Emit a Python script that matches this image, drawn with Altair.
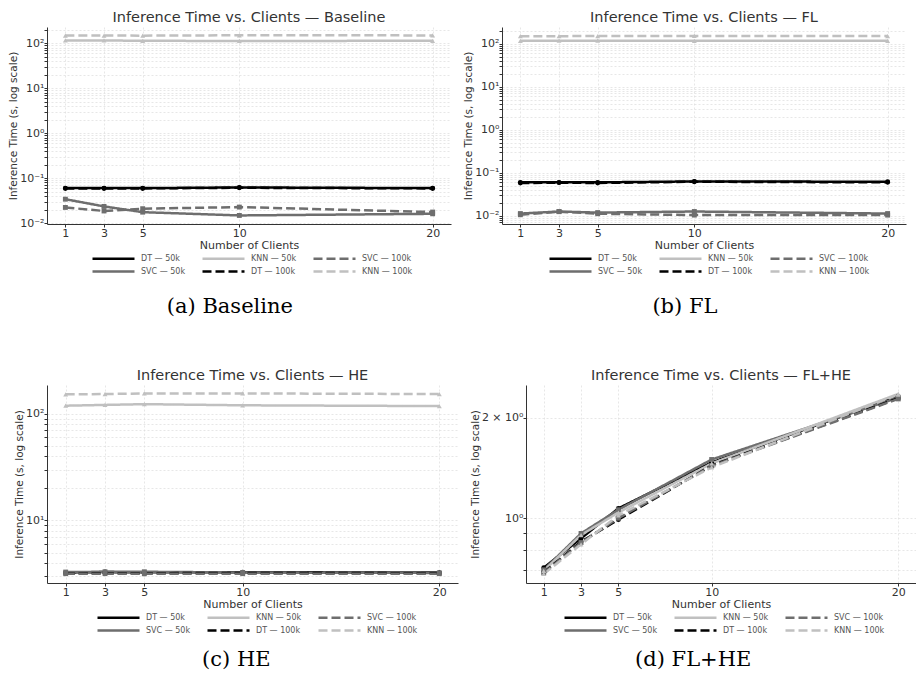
import altair as alt
import pandas as pd

clients = [1, 3, 5, 10, 20]
series_names = ["DT — 50k", "SVC — 50k", "KNN — 50k", "DT — 100k", "SVC — 100k", "KNN — 100k"]
series_models = ["DT", "SVC", "KNN", "DT", "SVC", "KNN"]
# legend order (row-wise fill of 3 columns, matching matplotlib column-wise fill)
legend_order = ["DT — 50k", "KNN — 50k", "SVC — 100k", "SVC — 50k", "DT — 100k", "KNN — 100k"]
legend_colors = ["#000000", "#c0c0c0", "#6e6e6e", "#6e6e6e", "#000000", "#c0c0c0"]
legend_dashes = [[1, 0], [1, 0], [9, 4], [1, 0], [9, 4], [9, 4]]
model_shapes = {"DT": "circle", "SVC": "square", "KNN": "triangle-up"}

# Baseline
base_dt50 = [0.060, 0.060, 0.060, 0.062, 0.060]
base_svc50 = [0.034, 0.0235, 0.0175, 0.0148, 0.0161]
base_knn50 = [115, 115, 113, 112, 113]
base_dt100 = [0.059, 0.059, 0.059, 0.061, 0.059]
base_svc100 = [0.0223, 0.0186, 0.0209, 0.0227, 0.0176]
base_knn100 = [148, 148, 147, 150, 149]

# FL
fl_dt50 = [0.060, 0.060, 0.060, 0.063, 0.062]
fl_svc50 = [0.0113, 0.0126, 0.0119, 0.0126, 0.0113]
fl_knn50 = [117, 118, 118, 117, 117]
fl_dt100 = [0.058, 0.059, 0.058, 0.062, 0.060]
fl_svc100 = [0.0106, 0.0125, 0.0112, 0.0104, 0.0104]
fl_knn100 = [150, 150, 151, 152, 151]

# HE
he_dt50 = [3.25, 3.28, 3.26, 3.27, 3.24]
he_svc50 = [3.28, 3.30, 3.30, 3.25, 3.22]
he_knn50 = [119, 121, 123, 120, 118]
he_dt100 = [3.18, 3.20, 3.20, 3.22, 3.20]
he_svc100 = [3.17, 3.17, 3.16, 3.17, 3.17]
he_knn100 = [152, 153, 155, 155, 153]

# FL+HE
flhe_dt50 = [0.71, 0.87, 1.07, 1.47, 2.32]
flhe_svc50 = [0.70, 0.90, 1.06, 1.50, 2.30]
flhe_knn50 = [0.695, 0.89, 1.04, 1.46, 2.36]
flhe_dt100 = [0.688, 0.85, 0.99, 1.44, 2.29]
flhe_svc100 = [0.685, 0.845, 1.00, 1.435, 2.28]
flhe_knn100 = [0.68, 0.835, 1.02, 1.42, 2.35]

FONT = "DejaVu Sans"
TXT = "#333333"


def minor_values(lo, hi):
    vals = []
    for e in range(-4, 4):
        for m in range(1, 10):
            v = round(m * 10.0 ** e, 10)
            if lo <= v <= hi:
                vals.append(v)
    return vals


def label_expr(labels):
    expr = "''"
    for v, s in labels:
        expr = f"abs(datum.value/{v} - 1) < 1e-6 ? '{s}' : ({expr})"
    return expr


def panel(title, caption, series, ydomain, ylabels, width, height, legend_x, cap_offset):
    rows = []
    for name, model, vals in zip(series_names, series_models, series):
        for c, v in zip(clients, vals):
            rows.append({"clients": c, "time": v, "series": name, "model": model})
    df = pd.DataFrame(rows)

    x = alt.X(
        "clients:Q",
        scale=alt.Scale(domain=[0.05, 20.95], nice=False, zero=False),
        axis=alt.Axis(values=clients, title="Number of Clients", format="d", titleFontSize=11),
    )
    y = alt.Y(
        "time:Q",
        scale=alt.Scale(type="log", domain=ydomain, nice=False),
        axis=alt.Axis(
            values=minor_values(ydomain[0], ydomain[1]),
            labelExpr=label_expr(ylabels),
            title="Inference Time (s, log scale)",
        ),
    )
    leg = alt.Legend(title=None, orient="none", legendX=legend_x, legendY=height + 28)
    cscale = alt.Scale(domain=legend_order, range=legend_colors)
    color = alt.Color("series:N", scale=cscale, legend=leg)
    dash = alt.StrokeDash(
        "series:N",
        scale=alt.Scale(domain=legend_order, range=legend_dashes),
        legend=leg,
    )
    base = alt.Chart(df).encode(x=x, y=y)
    lines = base.mark_line(strokeWidth=2.5).encode(color=color, strokeDash=dash)
    layers = [lines]
    for model, shp in model_shapes.items():
        layers.append(
            base.transform_filter(alt.datum.model == model)
            .mark_point(filled=True, size=24, opacity=1, shape=shp)
            .encode(color=alt.Color("series:N", scale=cscale, legend=None))
        )
    layer = alt.layer(*layers).properties(
        width=width,
        height=height,
        title=alt.Title(title, fontSize=14.5, font=FONT, fontWeight="normal", color=TXT, offset=2),
    )
    return alt.vconcat(
        layer,
        title=alt.Title(
            caption,
            orient="bottom",
            anchor="middle",
            font="DejaVu Serif",
            fontSize=21,
            fontWeight="normal",
            color="black",
            offset=cap_offset,
        ),
    ).resolve_scale(color="independent", strokeDash="independent")


dec = [(0.01, "10⁻²"), (0.1, "10⁻¹"), (1, "10⁰"), (10, "10¹"), (100, "10²")]

pa = panel(
    "Inference Time vs. Clients — Baseline", "(a) Baseline",
    [base_dt50, base_svc50, base_knn50, base_dt100, base_svc100, base_knn100],
    [0.00955, 229], dec, 404, 197, 60, 19,
)
pb = panel(
    "Inference Time vs. Clients — FL", "(b) FL",
    [fl_dt50, fl_svc50, fl_knn50, fl_dt100, fl_svc100, fl_knn100],
    [0.00646, 245], dec, 404, 197, 62, 19,
)
pc = panel(
    "Inference Time vs. Clients — HE", "(c) HE",
    [he_dt50, he_svc50, he_knn50, he_dt100, he_svc100, he_knn100],
    [2.59, 186], [(10, "10¹"), (100, "10²")], 411, 198, 65, 13,
)
pd_ = panel(
    "Inference Time vs. Clients — FL+HE", "(d) FL+HE",
    [flhe_dt50, flhe_svc50, flhe_knn50, flhe_dt100, flhe_svc100, flhe_knn100],
    [0.639, 2.51], [(1, "10⁰"), (2, "2 × 10⁰")], 390, 198, 53, 13,
)

ind = dict(color="independent", strokeDash="independent")
row1 = alt.hconcat(pa, pb, spacing=12).resolve_scale(**ind)
row2 = alt.hconcat(pc, pd_, spacing=12).resolve_scale(**ind)

chart = (
    alt.vconcat(row1, row2, spacing=50)
    .resolve_scale(**ind)
    .properties(padding={"left": 0, "top": 1, "right": 0, "bottom": 0})
    .configure_view(stroke=None)
    .configure_axis(
        labelFont=FONT,
        titleFont=FONT,
        labelFontSize=11,
        titleFontSize=10.5,
        titleFontWeight="normal",
        labelColor=TXT,
        titleColor=TXT,
        domainColor=TXT,
        domainWidth=1,
        tickColor=TXT,
        tickSize=3,
        labelPadding=0,
        titlePadding=1,
        grid=True,
        gridColor="#dddddd",
        gridDash=[2, 2],
        gridWidth=0.7,
    )
    .configure_legend(
        direction="horizontal",
        columns=3,
        symbolType="M-4,0H4",
        symbolStrokeWidth=2.5,
        symbolSize=110.25,
        labelFont=FONT,
        labelFontSize=8,
        labelColor="#555555",
        columnPadding=11,
        rowPadding=1,
        labelOffset=21,
    )
)

chart.save("out.html", embed_options={"renderer": "svg", "actions": False})
